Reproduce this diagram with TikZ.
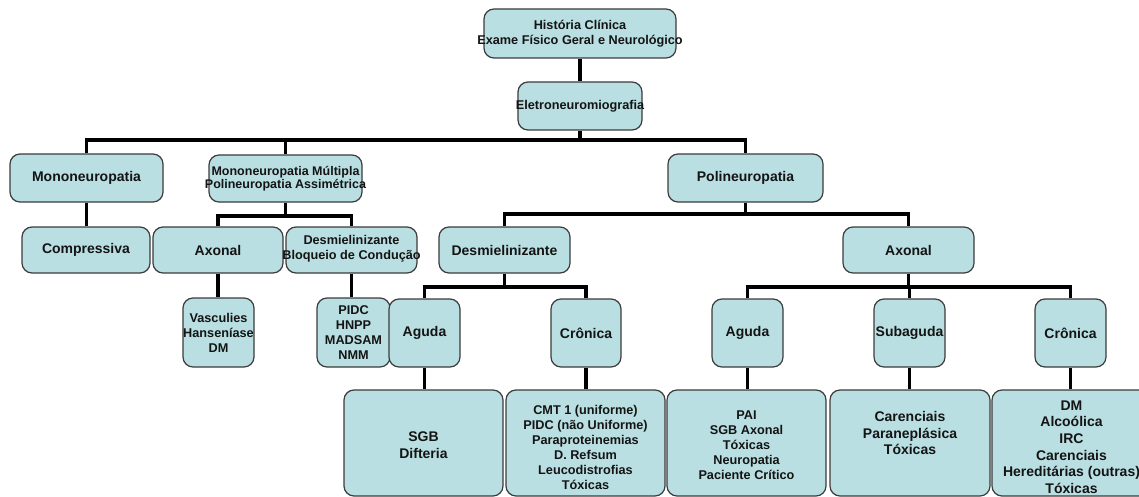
\documentclass[tikz,border=0pt]{standalone}
\usepackage{fontspec}
\setmainfont{Liberation Sans}
\usetikzlibrary{backgrounds}
\definecolor{boxfill}{RGB}{185,223,226}
\definecolor{boxline}{RGB}{60,60,60}
\definecolor{txt}{RGB}{20,20,20}
\tikzset{
  box/.style={draw=boxline, line width=1.2pt, fill=boxfill, rounded corners=10pt, inner sep=0pt},
  conn/.style={line width=3.6pt, draw=black},
  big/.style={font=\bfseries\fontsize{14}{16.7}\selectfont, align=center, text=txt, inner sep=0pt},
  small/.style={font=\bfseries\fontsize{12.7}{15}\selectfont, align=center, text=txt, inner sep=0pt},
  tight/.style={font=\bfseries\fontsize{12.5}{13.3}\selectfont, align=center, text=txt, inner sep=0pt},
}
\begin{document}
\begin{tikzpicture}[x=1pt,y=-1pt]
\useasboundingbox (0,0) rectangle (1139,497);
\clip (0,0) rectangle (1139,497);

% boxes
\node[box, minimum width=192pt, minimum height=49pt] (hist) at (580,33.5) {};
\node[box, minimum width=124pt, minimum height=48pt] (eletro) at (580,106) {};
\node[box, minimum width=153pt, minimum height=48pt] (mono) at (86.5,178) {};
\node[box, minimum width=153pt, minimum height=47pt] (mult) at (285.5,178.5) {};
\node[box, minimum width=155pt, minimum height=48pt] (poli) at (745.5,178) {};
\node[box, minimum width=128pt, minimum height=46pt] (comp) at (86,250) {};
\node[box, minimum width=130pt, minimum height=46pt] (axL) at (218,250) {};
\node[box, minimum width=131pt, minimum height=46pt] (desmB) at (351.5,250) {};
\node[box, minimum width=131pt, minimum height=46pt] (desmR) at (504.5,250) {};
\node[box, minimum width=131pt, minimum height=46pt] (axR) at (908.5,250) {};
\node[box, minimum width=71pt, minimum height=69pt] (vasc) at (218.5,332.5) {};
\node[box, minimum width=73pt, minimum height=69pt] (pidc) at (353.5,332.5) {};
\node[box, minimum width=71pt, minimum height=68pt] (agudaD) at (424.5,333) {};
\node[box, minimum width=70pt, minimum height=68pt] (cronD) at (586,333) {};
\node[box, minimum width=71pt, minimum height=68pt] (agudaA) at (747.5,333) {};
\node[box, minimum width=71pt, minimum height=68pt] (subag) at (909.5,333) {};
\node[box, minimum width=71pt, minimum height=68pt] (cronA) at (1070.5,333) {};
\node[box, minimum width=159pt, minimum height=106pt] (sgb) at (423.5,443) {};
\node[box, minimum width=159pt, minimum height=106pt] (cmt) at (585.5,443) {};
\node[box, minimum width=159pt, minimum height=106pt] (pai) at (746.5,443) {};
\node[box, minimum width=160pt, minimum height=106pt] (car) at (910,443) {};
\node[box, minimum width=159pt, minimum height=106pt] (dm) at (1071.5,443) {};

% texts
\node[small] (histT) at (hist) {História Clínica\\Exame Físico Geral e Neurológico};
\node[small] (eletroT) at (eletro) {Eletroneuromiografia};
\node[big] (monoT) at (mono) {Mononeuropatia};
\node[tight] (multT) at (mult) {Mononeuropatia Múltipla\\Polineuropatia Assimétrica};
\node[big] (poliT) at (poli) {Polineuropatia};
\node[big] (compT) at (comp) {Compressiva};
\node[big] (axLT) at (axL) {Axonal};
\node[small] (desmBT) at ([yshift=1pt]desmB) {Desmielinizante\\Bloqueio de Condução};
\node[big] (desmRT) at (desmR) {Desmielinizante};
\node[big] (axRT) at (axR) {Axonal};
\node[small] (vascT) at (vasc) {Vasculies\\Hanseníase\\DM};
\node[small] (pidcT) at (pidc) {PIDC\\HNPP\\MADSAM\\NMM};
\node[big] (agudaDT) at (agudaD) {Aguda};
\node[big] (cronDT) at (cronD) {Crônica};
\node[big] (agudaAT) at (agudaA) {Aguda};
\node[big] (subagT) at (subag) {Subaguda};
\node[big] (cronAT) at (cronA) {Crônica};
\node[big] (sgbT) at ([yshift=-2pt]sgb) {SGB\\Difteria};
\node[small] (cmtT) at ([yshift=-4pt]cmt) {CMT 1 (uniforme)\\PIDC (não Uniforme)\\Paraproteinemias\\D. Refsum\\Leucodistrofias\\Tóxicas};
\node[small] (paiT) at ([yshift=-2pt]pai) {PAI\\SGB Axonal\\Tóxicas\\Neuropatia\\Paciente Crítico};
\node[big] (carT) at ([yshift=10pt]car) {Carenciais\\Paraneplásica\\Tóxicas};
\node[big] (dmT) at ([yshift=-4pt]dm) {DM\\Alcoólica\\IRC\\Carenciais\\Hereditárias (outras)\\Tóxicas};

% connectors
\coordinate (b1) at (0,140);
\coordinate (b2) at (0,216);
\coordinate (b3) at (0,214);
\coordinate (b4) at (0,287);
\begin{scope}[on background layer]
\fill[white] (0,0) rectangle (1139,497);
\draw[conn] (hist.south) -- (eletro.north);
\draw[conn] (eletro.south) -- (eletro.south |- b1);
\draw[conn] (mono.north) |- (b1 -| poli.north) -- (poli.north);
\draw[conn] (mult.north) -- (mult.north |- b1);
\draw[conn] (mono.south) -- (mono.south |- comp.north);
\draw[conn] (mult.south) -- (mult.south |- b2);
\draw[conn] (axL.north) |- (b2 -| desmB.north) -- (desmB.north);
\draw[conn] (poli.south) -- (poli.south |- b3);
\draw[conn] (desmR.north) |- (b3 -| axR.north) -- (axR.north);
\draw[conn] (axL.south) -- (axL.south |- vasc.north);
\draw[conn] (desmB.south) -- (desmB.south |- pidc.north);
\draw[conn] (desmR.south) -- (desmR.south |- b4);
\draw[conn] (agudaD.north) |- (b4 -| cronD.north) -- (cronD.north);
\draw[conn] (axR.south) -- (axR.south |- b4);
\draw[conn] (agudaA.north) |- (b4 -| cronA.north) -- (cronA.north);
\draw[conn] (subag.north) -- (subag.north |- b4);
\draw[conn] (agudaD.south) -- (agudaD.south |- sgb.north);
\draw[conn] (cronD.south) -- (cronD.south |- cmt.north);
\draw[conn] (agudaA.south) -- (agudaA.south |- pai.north);
\draw[conn] (subag.south) -- (subag.south |- car.north);
\draw[conn] (cronA.south) -- (cronA.south |- dm.north);
\end{scope}
\end{tikzpicture}
\end{document}
